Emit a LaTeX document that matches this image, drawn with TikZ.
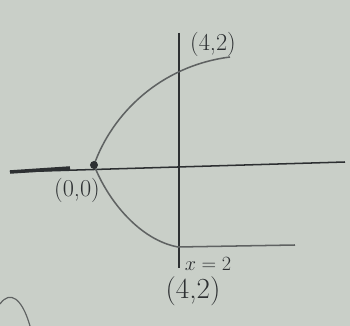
\documentclass[tikz,border=0pt]{standalone}
\usepackage{tikz}
\usetikzlibrary{positioning}
\definecolor{paper}{RGB}{201,207,200}
\definecolor{pencil}{RGB}{45,48,50}
\definecolor{softpencil}{RGB}{95,98,98}

\begin{document}
\begin{tikzpicture}[x=0.03cm,y=0.03cm,
    curve/.style={softpencil,line width=1.3pt},
    axis/.style={pencil,line width=1.3pt},
    lbl/.style={pencil,font=\huge,inner sep=0pt}]
        \fill[paper] (0,0) rectangle (350,326);
        \useasboundingbox (0,0) rectangle (350,326);
        \coordinate (O) at (94,161);
        \coordinate (top) at (230,269);
        \coordinate (bot) at (178,79);
        % axes
        \draw[axis] (10,154) -- (345,164);
        \draw[pencil,line width=3pt] (10,154) -- (70,158);
        \draw[axis,line width=1.7pt] (179,293) -- (179,58);
        % parabola
        \draw[curve] (O) .. controls (112,212) and (160,260) .. (top);
        \draw[curve] (O) .. controls (108,125) and (140,86) .. (bot)
          -- (295,81);
        \fill[pencil] (O) circle (4);
        % stray stroke
        \draw[softpencil,line width=1pt] (0,22) .. controls (10,36) and (22,28) .. (30,0);
        % labels
        \node[lbl] (ptop) at (213,282) {(4,2)};
        \node[lbl] (porig) at (77,136) {(0,0)};
        \node[lbl,font=\LARGE] (xline) at (208,62) {$x=2$};
        \node[lbl,font=\Huge] (pbot) at (193,35) {(4,2)};
      \end{tikzpicture}
\end{document}
